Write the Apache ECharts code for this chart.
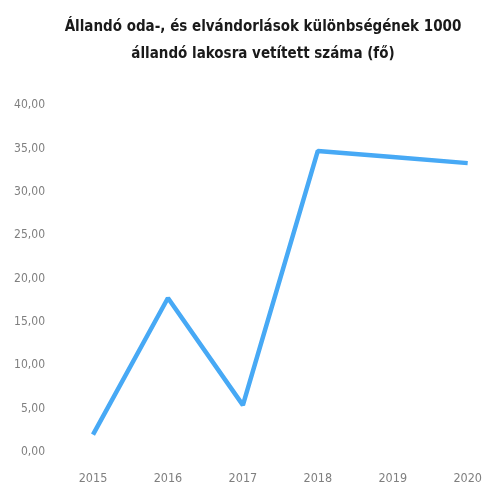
<!DOCTYPE html>
<html><head><meta charset="utf-8">
<script src="https://cdn.jsdelivr.net/npm/echarts@6/dist/echarts.min.js"></script>
<style>html,body{margin:0;padding:0;background:#fff}#c{width:485px;height:488px}</style>
</head><body><div id="c"></div>
<script>
const titleLine1 = 'Állandó oda-, és elvándorlások különbségének 1000';
const titleLine2 = 'állandó lakosra vetített száma (fő)';
const years = ['2015','2016','2017','2018','2019','2020'];
const values = [2.0, 17.75, 5.4, 34.7, 34.0, 33.3];
const FONT = '"DejaVu Sans Condensed", "Liberation Sans Narrow", sans-serif';
const chart = echarts.init(document.getElementById('c'));
chart.setOption({
  animation:false,
  title:[
    {text:titleLine1,left:258,textAlign:'center',top:15,textStyle:{fontFamily:FONT,fontWeight:'bold',fontSize:15,color:'#1a1a1a'}},
    {text:titleLine2,left:258,textAlign:'center',top:42,textStyle:{fontFamily:FONT,fontWeight:'bold',fontSize:15,color:'#1a1a1a'}}
  ],
  grid:{left:93,right:15,top:105,bottom:36,containLabel:false},
  xAxis:{type:'category',data:years,boundaryGap:false,
    axisLine:{show:false},axisTick:{show:false},splitLine:{show:false},
    axisLabel:{color:'#7f7f7f',fontFamily:FONT,fontSize:12.5,margin:20}},
  yAxis:{type:'value',min:0,max:40,interval:5,
    axisLine:{show:false},axisTick:{show:false},splitLine:{show:false},
    axisLabel:{color:'#7f7f7f',fontFamily:FONT,fontSize:12,margin:48,
      formatter:v=>v.toFixed(2).replace('.',',')}},
  series:[{type:'line',data:values,symbol:'none',lineStyle:{color:'#47a9f5',width:4.5}}]
});
</script></body></html>
